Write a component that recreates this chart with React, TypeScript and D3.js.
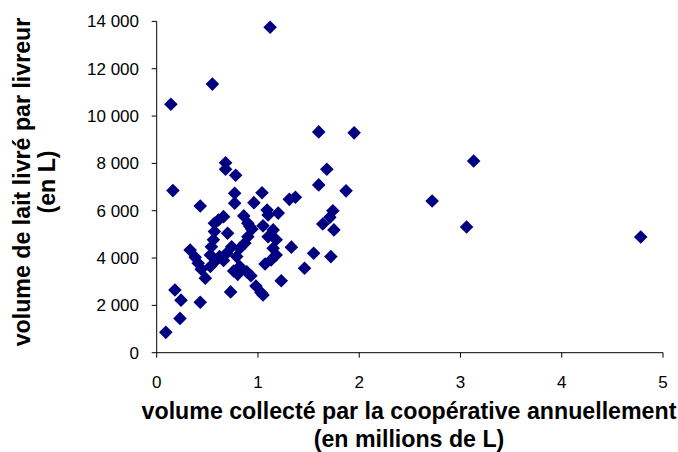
import React from 'react';
import * as d3 from 'd3';

// volume collecté (millions de L)
const volumeCollecte = [
  0.09, 0.23, 0.43, 0.24, 0.18, 0.73, 0.16, 0.43, 0.68, 0.68,
  0.78, 0.77, 0.77, 1.04, 0.96, 1.31, 1.37, 1.6, 1.68, 1.87,
  1.74, 1.71, 1.64, 1.75, 1.72, 1.55, 1.46, 1.33, 1.23, 1.03,
  0.98, 0.89, 0.8, 0.76, 1.07, 1.13, 1.18, 1.15, 1.1, 1.15,
  1.05, 1.1, 1.2, 1.09, 0.86, 0.9, 0.94, 0.9, 0.87, 0.82,
  0.7, 0.66, 0.61, 0.57, 0.57, 0.56, 0.54, 0.53, 0.59, 0.69,
  0.74, 0.79, 0.33, 0.38, 0.41, 0.44, 0.48, 0.53, 0.82, 1.05,
  1.12, 0.55, 0.14, 1.6, 1.95, 2.72, 3.13, 3.06, 4.78, 0.92,
  0.93, 0.62, 1.18, 0.66,
];

// volume de lait livré par livreur (L)
const volumeLivreur = [
  860, 1450, 2130, 2220, 2650, 2570, 6850, 6200, 8030, 7750,
  7500, 6740, 6320, 6760, 6340, 6480, 6570, 7090, 7750, 6840,
  6000, 5720, 5440, 5190, 4060, 4200, 3570, 4460, 3040, 2540,
  2820, 3420, 3310, 3450, 3750, 3920, 4130, 4410, 4900, 5190,
  5360, 5820, 5900, 6030, 5780, 5470, 5220, 4900, 4630, 4410,
  5050, 5750, 5610, 5470, 5120, 4770, 4480, 4130, 3920, 4200,
  4480, 4060, 4340, 4030, 3780, 3530, 3150, 3640, 3640, 2440,
  13750, 11350, 10500, 9330, 9290, 6410, 8100, 5310, 4890, 5330,
  3250, 4060, 4770, 3900,
];

const xTicks = [0, 1, 2, 3, 4, 5];
const yTicks = [0, 2000, 4000, 6000, 8000, 10000, 12000, 14000];

const W = 678;
const H = 452;
const FONT = '"Liberation Sans", Arial, sans-serif';
const NAVY = '#000080';

const fmt = (v: number) => d3.format(',')(v).replace(/,/g, ' ');

export default function App() {
  const x = d3.scaleLinear().domain([0, 5]).range([156.7, 663]);
  const y = d3.scaleLinear().domain([0, 14000]).range([352.7, 21.4]);
  const pts = volumeCollecte.map((v, i) => ({ x: v, y: volumeLivreur[i] }));
  const s = 6.8;
  const diamond = `M0,${-s}L${s},0L0,${s}L${-s},0Z`;

  return (
    <svg width={W} height={H} style={{ position: 'absolute', left: 0, top: 0, background: '#fff' }} fontFamily={FONT}>
      {/* axes */}
      <line x1={x(0)} x2={x(0)} y1={y(14000)} y2={y(0)} stroke="#000" strokeWidth={1} />
      <line x1={x(0)} x2={x(5)} y1={y(0)} y2={y(0)} stroke="#000" strokeWidth={1} />
      {yTicks.map((t) => (
        <g key={'y' + t}>
          <line x1={x(0) - 5} x2={x(0)} y1={y(t)} y2={y(t)} stroke="#000" />
          <text x={139} y={y(t)} dy="0.35em" textAnchor="end" fontSize={17}>
            {fmt(t)}
          </text>
        </g>
      ))}
      {xTicks.map((t) => (
        <g key={'x' + t}>
          <line x1={x(t)} x2={x(t)} y1={y(0)} y2={y(0) + 5} stroke="#000" />
          <text x={x(t)} y={388} textAnchor="middle" fontSize={17}>
            {t}
          </text>
        </g>
      ))}
      {pts.map((p, i) => (
        <path key={i} d={diamond} transform={`translate(${x(p.x)},${y(p.y)})`} fill={NAVY} />
      ))}
      <text x={409} y={419} textAnchor="middle" fontSize={23.2} fontWeight="bold">
        volume collecté par la coopérative annuellement
      </text>
      <text x={409} y={447} textAnchor="middle" fontSize={23.2} fontWeight="bold">
        (en millions de L)
      </text>
      <g transform="translate(30,182) rotate(-90)">
        <text x={0} y={0} textAnchor="middle" fontSize={23.2} fontWeight="bold">
          volume de lait livré par livreur
        </text>
        <text x={0} y={25} textAnchor="middle" fontSize={23.2} fontWeight="bold">
          (en L)
        </text>
      </g>
    </svg>
  );
}
